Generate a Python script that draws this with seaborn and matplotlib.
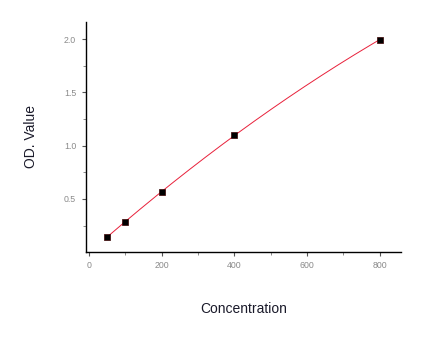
import numpy as np
import pandas as pd
import matplotlib
matplotlib.use("Agg")
import matplotlib.pyplot as plt
import seaborn as sns
from matplotlib.ticker import MultipleLocator

concentration = [50, 100, 200, 400, 800]
od_value = [0.144, 0.285, 0.563, 1.097, 1.995]

sns.set_theme(style="white")
plt.rcParams['font.family'] = ['Liberation Sans', 'DejaVu Sans']

df = pd.DataFrame({"Concentration": concentration, "OD": od_value})

# smooth fitted curve through the standards
coef = np.polyfit(df["Concentration"], df["OD"], 2)
xs = np.linspace(min(concentration), max(concentration), 200)
fit = pd.DataFrame({"Concentration": xs, "OD": np.polyval(coef, xs)})

fig = plt.figure(figsize=(4.45, 3.49), dpi=100)
ax = fig.add_axes([0.193, 0.279, 0.708, 0.658])

sns.lineplot(data=fit, x="Concentration", y="OD", ax=ax, color="#e8203a", linewidth=0.7)
sns.scatterplot(data=df, x="Concentration", y="OD", ax=ax, marker="s", s=20,
                color="black", edgecolor="#3a0000", linewidth=0.5, zorder=3)

ax.set_xlim(-8, 858)
ax.set_ylim(0.005, 2.16)
ax.xaxis.set_major_locator(MultipleLocator(200))
ax.xaxis.set_minor_locator(MultipleLocator(100))
ax.yaxis.set_major_locator(MultipleLocator(0.5))
ax.yaxis.set_minor_locator(MultipleLocator(0.25))
ax.set_yticks([0.5, 1.0, 1.5, 2.0])
ax.set_yticklabels(["0.5", "1.0", "1.5", "2.0"])

for s in ["top", "right"]:
    ax.spines[s].set_visible(False)
for s in ["left", "bottom"]:
    ax.spines[s].set_color("black")
    ax.spines[s].set_linewidth(1.0)

ax.tick_params(which="major", direction="out", length=3, width=0.8, color="#555555",
               labelsize=6.3, labelcolor="#8a8a8a", left=True, bottom=True, pad=4)
ax.tick_params(which="minor", direction="out", length=2, width=0.6, color="#777777",
               left=True, bottom=True)

ax.set_xlabel("Concentration", fontsize=10, color="#1a1a2a", labelpad=23)
ax.set_ylabel("OD. Value", fontsize=10, color="#1a1a2a", labelpad=19)

fig.savefig("out.png", dpi=100, facecolor="white")
